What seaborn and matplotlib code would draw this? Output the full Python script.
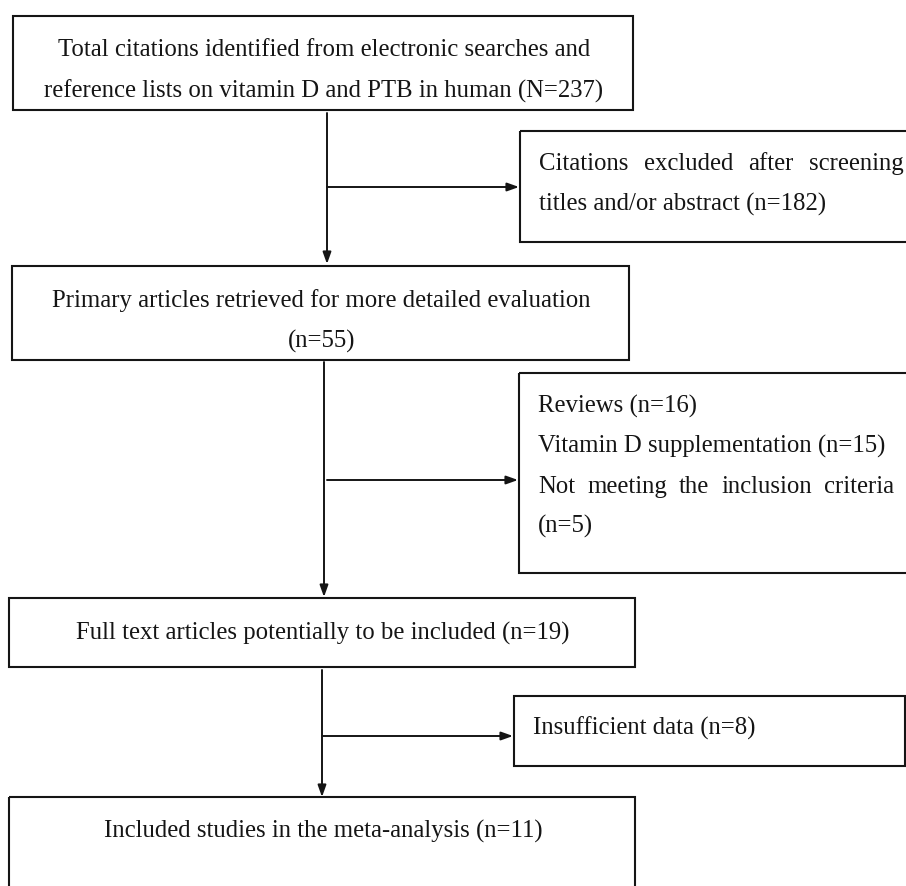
import numpy as np
import pandas as pd
import matplotlib
matplotlib.use("Agg")
import matplotlib.pyplot as plt
from matplotlib.patches import Rectangle
import seaborn as sns

# counts
n_total = 237
n_screen_excl = 182
n_primary = 55
n_reviews = 16
n_suppl = 15
n_notmeet = 5
n_fulltext = 19
n_insuff = 8
n_included = 11

main_text = [
    ["Total citations identified from electronic searches and",
     "reference lists on vitamin D and PTB in human (N=%d)" % n_total],
    ["Primary articles retrieved for more detailed evaluation",
     "(n=%d)" % n_primary],
    ["Full text articles potentially to be included (n=%d)" % n_fulltext],
    ["Included studies in the meta-analysis (n=%d)" % n_included],
]
side_text = [
    ["Citations excluded after screening",
     "titles and/or abstract (n=%d)" % n_screen_excl],
    ["Reviews (n=%d)" % n_reviews,
     "Vitamin D supplementation (n=%d)" % n_suppl,
     "Not meeting the inclusion criteria",
     "(n=%d)" % n_notmeet],
    ["Insufficient data (n=%d)" % n_insuff],
]
# lines that are justified in the original (box, line) -> right edge
justified = {(0, 0): 904, (1, 2): 894}

sns.set_style("white")
plt.rcParams['font.family'] = ['Liberation Serif', 'DejaVu Serif']

fig = plt.figure(figsize=(9.06, 8.86), dpi=100)
ax = fig.add_axes([0, 0, 1, 1])
ax.set_xlim(0, 906)
ax.set_ylim(886, 0)
ax.axis('off')

ink = '#151515'
fs = 17.8

main_boxes = [(13, 16, 633, 110), (12, 266, 629, 360), (9, 598, 635, 667), (9, 797, 635, 910)]
main_ys = [[50, 91], [301, 341], [633], [831]]
side_boxes = [(520, 131, 915, 242), (519, 373, 915, 573), (514, 696, 905, 766)]
side_ys = [[164, 204], [406, 446, 487, 526], [728]]

for (x0, y0, x1, y1), lines, ys in zip(main_boxes, main_text, main_ys):
    ax.add_patch(Rectangle((x0, y0), x1 - x0, y1 - y0, fill=False, ec=ink, lw=1.5))
    cx = (x0 + x1) / 2 + 1
    for s, y in zip(lines, ys):
        ax.text(cx, y, s, ha='center', va='center', fontsize=fs, color=ink)

fig.canvas.draw()
rend = fig.canvas.get_renderer()

for bi, ((x0, y0, x1, y1), lines, ys) in enumerate(zip(side_boxes, side_text, side_ys)):
    ax.add_patch(Rectangle((x0, y0), x1 - x0, y1 - y0, fill=False, ec=ink, lw=1.5))
    for li, (s, y) in enumerate(zip(lines, ys)):
        xl = x0 + 19
        if (bi, li) in justified:
            words = s.split()
            ts = [ax.text(xl, y, w, ha='left', va='center', fontsize=fs, color=ink) for w in words]
            ws = [t.get_window_extent(rend).width for t in ts]
            gap = (justified[(bi, li)] - xl - sum(ws)) / (len(words) - 1)
            xpos = xl
            for t, w in zip(ts, ws):
                t.set_x(xpos)
                xpos += w + gap
        else:
            ax.text(xl, y, s, ha='left', va='center', fontsize=fs, color=ink)

arw = dict(arrowstyle='-|>,head_length=0.7,head_width=0.25', lw=1.4, color=ink,
           mutation_scale=10, shrinkA=0, shrinkB=0)
# vertical flow arrows
for x, ya, yb in [(327, 113, 264), (324, 362, 597), (322, 670, 797)]:
    ax.annotate('', xy=(x, yb), xytext=(x, ya), arrowprops=arw)
# branches to exclusion boxes
for xa, xb, y in [(327, 519, 187), (327, 518, 480), (322, 513, 736)]:
    ax.annotate('', xy=(xb, y), xytext=(xa, y), arrowprops=arw)

fig.savefig('out.png', dpi=100, facecolor='white')
